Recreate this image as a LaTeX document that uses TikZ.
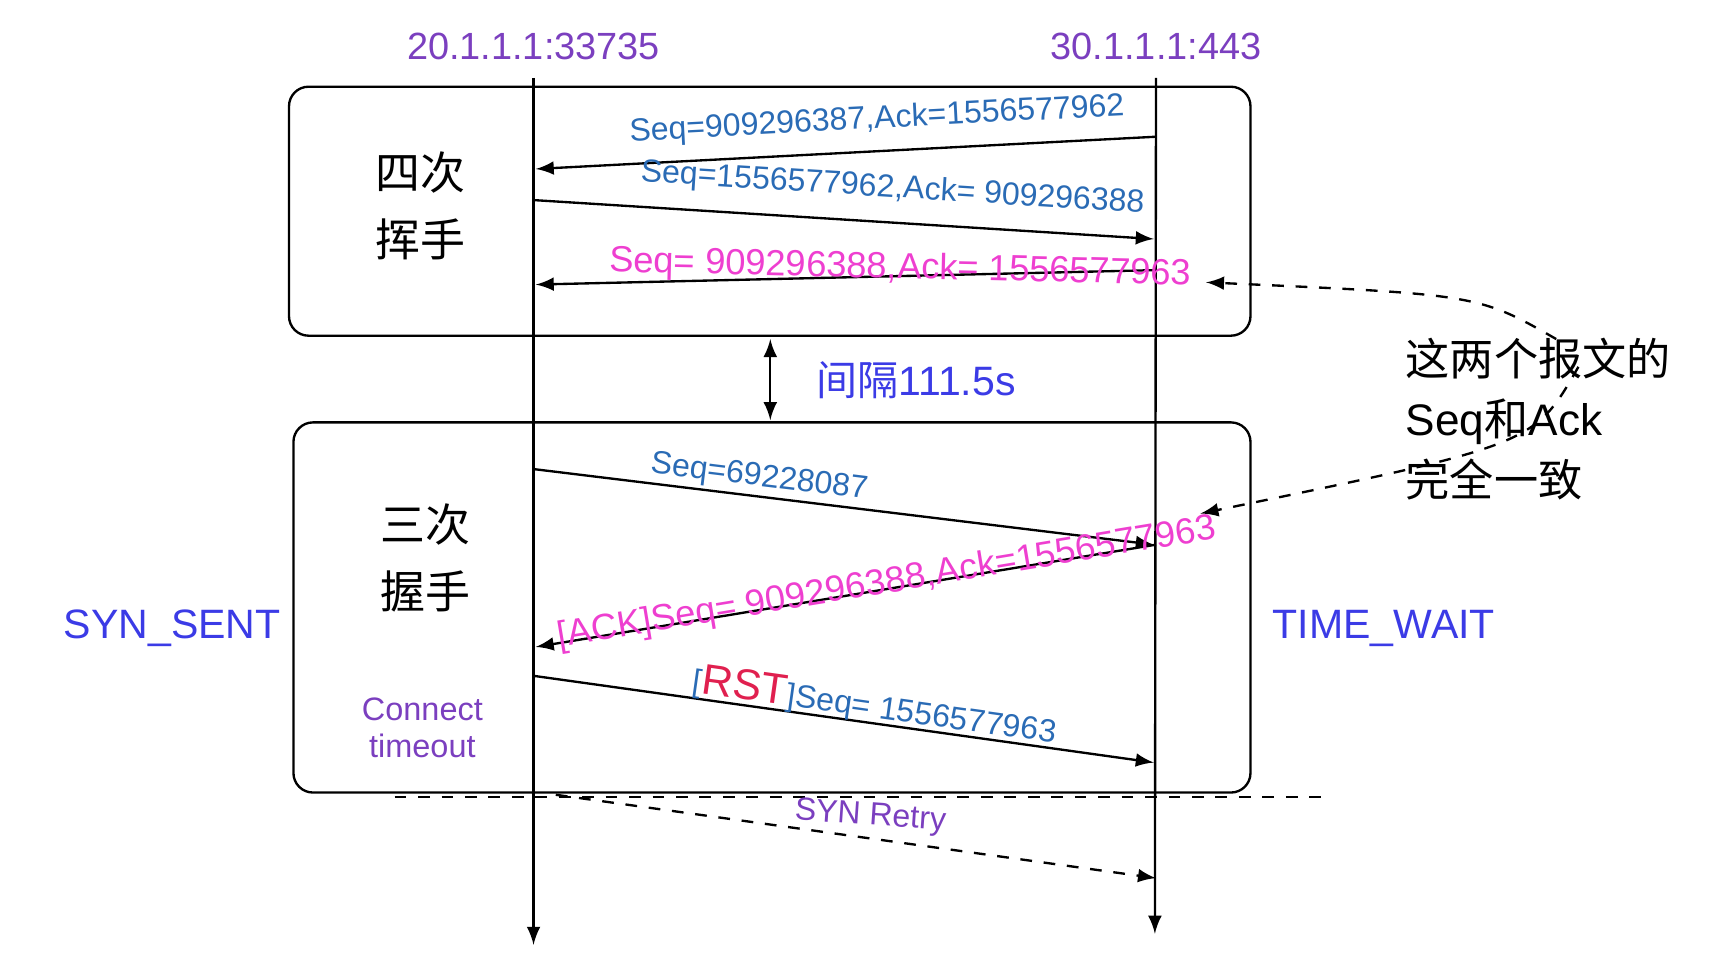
\documentclass[tikz,border=0pt]{standalone}
\usepackage{fontspec}
\setmainfont{Liberation Sans}
\newfontfamily\cjk{Noto Sans CJK SC}
\usetikzlibrary{positioning,arrows}
\definecolor{hostc}{HTML}{7B3FBF}
\definecolor{seqc}{HTML}{2A6BB5}
\definecolor{magc}{HTML}{EE3FD0}
\definecolor{statec}{HTML}{3B3BE6}
\definecolor{rstc}{HTML}{E0204F}
\begin{document}
\begin{tikzpicture}[
x=0.01cm,y=-0.01cm,
box/.style={
  draw,
  rounded corners=5pt,
  semithick
  },
msg/.style={
  ->,
  semithick
  },
lbl/.style={
  font=\fontsize{8.2}{8.5}\selectfont,
  inner sep=1pt
  },
big/.style={
  font=\fontsize{9.3}{9.5}\selectfont
  },
host/.style={
  font=\fontsize{9.7}{9.7}\selectfont,
  text=hostc
  },
state/.style={
  font=\fontsize{10.5}{10.5}\selectfont,
  text=statec
  },
phase/.style={
  font=\cjk\fontsize{11.5}{17}\selectfont,
  align=center
  },
>=latex
]
\useasboundingbox (0,0) rectangle (1560,866);
% hosts and lifelines
\node[host] (hA) at (480,42) {20.1.1.1:33735};
\node[host] (hB) at (1040,42) {30.1.1.1:443};
\coordinate (endA) at (480,850);
\coordinate (endB) at (1039,840);
\draw[->,semithick] (480,70) -- (endA);
\draw[->,semithick] (1040,70) -- (endB);

% phase boxes
\coordinate (box1) at (260,78); \coordinate (box1e) at (1125,302);
\coordinate (box2) at (264,380); \coordinate (box2e) at (1125,713);
\draw[box] (box1) rectangle (box1e);
\draw[box] (box2) rectangle (box2e);
\node[phase] (close) at (378,185) {四次\\挥手};
\node[phase] (open) at (383,502) {三次\\握手};

% four-way close
\coordinate (a1) at (482,152); \coordinate (b1) at (1040,123);
\coordinate (a2) at (480,180); \coordinate (b2) at (1038,215);
\coordinate (a3) at (482,256); \coordinate (b3) at (1040,243);
\draw[msg] (b1) -- (a1);
\draw[msg] (a2) -- (b2);
\draw[msg] (b3) -- (a3);
\node[lbl,text=seqc,rotate=3] (m1) at (789,108) {Seq=909296387,Ack=1556577962};
\node[lbl,text=seqc,rotate=-3.6] (m2) at (803,170) {Seq=1556577962,Ack= 909296388};
\node[lbl,big,text=magc,rotate=-1.3] (m3) at (810,242) {Seq= 909296388,Ack= 1556577963};

% gap
\coordinate (g1) at (693,305); \coordinate (g2) at (693,378);
\draw[<->,semithick] (g1) -- (g2);
\node[state,anchor=west] (gap) at (722,342) {{\cjk 间隔}111.5s};

% three-way open
\coordinate (a4) at (480,422); \coordinate (b4) at (1038,490);
\coordinate (a5) at (482,582); \coordinate (b5) at (1040,490);
\coordinate (a6) at (480,608); \coordinate (b6) at (1038,686);
\draw[msg] (a4) -- (b4);
\draw[msg] (b5) -- (a5);
\draw[msg] (a6) -- (b6);
\node[lbl,text=seqc,rotate=-7] (m4) at (683,430) {Seq=69228087};
\node[lbl,big,text=magc,rotate=9.4] (m5) at (798,525) {[ACK]Seq= 909296388,Ack=1556577963};
\node[lbl,text=seqc,rotate=-8] (m6) at (787,635) {[{\color{rstc}\fontsize{11}{11}\selectfont RST}]Seq= 1556577963};
\node[lbl,text=hostc,align=center,font=\fontsize{8.3}{9.5}\selectfont] (tmo) at (380,655) {Connect\\timeout};

% states
\node[state] (sA) at (155,565) {SYN\_SENT};
\node[state] (sB) at (1245,565) {TIME\_WAIT};

% retry
\draw[dashed,semithick] (355,717) -- (1188,717);
\coordinate (r0) at (500,715); \coordinate (r1) at (1040,790);
\draw[->,dashed,semithick] (r0) -- (r1);
\node[lbl,text=hostc,rotate=-4] (retry) at (783,735) {SYN Retry};

% note
\node[anchor=north west,align=left,font=\fontsize{11.3}{15.5}\selectfont,inner sep=0pt] (note) at (1264,303) {{\cjk 这两个报文的}\\Seq{\cjk 和}Ack\\{\cjk 完全一致}};
\coordinate (n1) at (1085,254); \coordinate (n2) at (1080,462);
\draw[->,dashed,semithick] (1400,305) .. controls (1330,265) .. (n1);
\draw[->,dashed,semithick] (1420,330) .. controls (1380,400) .. (n2);
\end{tikzpicture}
\end{document}
